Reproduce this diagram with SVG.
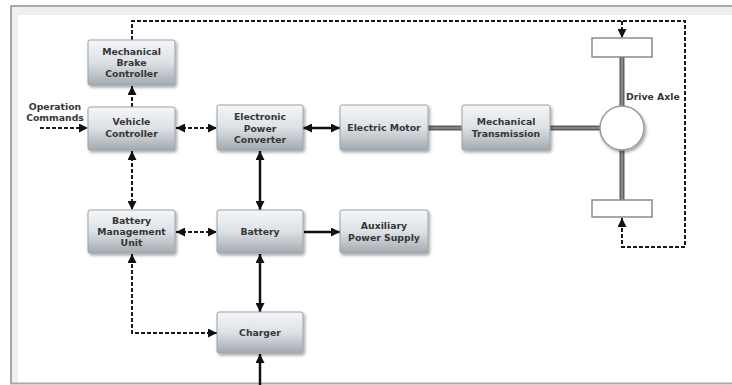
<svg xmlns="http://www.w3.org/2000/svg" width="732" height="385" viewBox="0 0 732 385">
<defs>
<linearGradient id="g" x1="0" y1="0" x2="0" y2="1">
<stop offset="0" stop-color="#f5f7f9"/>
<stop offset="0.5" stop-color="#dce1e5"/>
<stop offset="1" stop-color="#a3aab0"/>
</linearGradient>
<filter id="sh" x="-10%" y="-10%" width="125%" height="135%">
<feDropShadow dx="1.5" dy="2" stdDeviation="1.5" flood-color="#000" flood-opacity="0.35"/>
</filter>
<marker id="ah" viewBox="0 0 10 10" refX="10" refY="5" markerWidth="9" markerHeight="9" markerUnits="userSpaceOnUse" orient="auto-start-reverse">
<path d="M0,0 L10,5 L0,10 z" fill="#111"/>
</marker>
<style>
.box{fill:url(#g);stroke:#9ba2a8;stroke-width:1;filter:url(#sh)}
.t{font-family:"DejaVu Sans",Verdana,sans-serif;font-weight:bold;font-size:9.3px;fill:#363636;text-anchor:middle}
.dash{fill:none;stroke:#1a1a1a;stroke-width:2;stroke-dasharray:4 2}
.sol{fill:none;stroke:#111;stroke-width:2.5}
.shaft{fill:none;stroke:#5f5f5f;stroke-width:5}
.shaftc{fill:none;stroke:#a8a8a8;stroke-width:1.2}
.wheel{fill:#fff;stroke:#8a8a8a;stroke-width:1.5}
</style>
</defs>
<rect x="0" y="0" width="732" height="385" fill="#fff"/>
<g id="frame">
<rect x="10" y="6" width="722" height="9" fill="#eeeeee"/>
<rect x="10" y="6" width="8" height="377" fill="#f0f0f0"/>
<line x1="10" y1="6" x2="732" y2="6" stroke="#a8a8a8" stroke-width="2"/>
<line x1="11" y1="6" x2="11" y2="384" stroke="#a8a8a8" stroke-width="2"/>
<line x1="10" y1="383.5" x2="732" y2="383.5" stroke="#a8a8a8" stroke-width="2"/>
</g>
<g id="connectors">
<path class="shaft" d="M428,128 H462 M550,128 H600 M622,57 V106 M622,150 V200"/>
<path class="shaftc" d="M428,128 H462 M550,128 H600 M622,57 V106 M622,150 V200"/>
<path class="dash" d="M132,40 V21 H685 V247 H622 V218" marker-end="url(#ah)"/>
<path class="dash" d="M622,21 V38" marker-end="url(#ah)"/>
<path class="dash" d="M132,107 V86" marker-end="url(#ah)"/>
<path class="dash" d="M40,128 H88" marker-end="url(#ah)"/>
<path class="dash" d="M176,128 H217" marker-start="url(#ah)" marker-end="url(#ah)"/>
<path class="dash" d="M132,151 V210" marker-start="url(#ah)" marker-end="url(#ah)"/>
<path class="sol" d="M303,128 H340" marker-start="url(#ah)" marker-end="url(#ah)"/>
<path class="sol" d="M260,151 V210" marker-start="url(#ah)" marker-end="url(#ah)"/>
<path class="dash" d="M176,232 H217" marker-start="url(#ah)" marker-end="url(#ah)"/>
<path class="sol" d="M304,232 H340" marker-end="url(#ah)"/>
<path class="sol" d="M260,254 V312" marker-start="url(#ah)" marker-end="url(#ah)"/>
<path class="dash" d="M217,333 H132 V254" marker-start="url(#ah)" marker-end="url(#ah)"/>
<path class="sol" d="M260,385 V354" marker-end="url(#ah)"/>
</g>
<g id="mbc"><rect class="box" x="88" y="40" width="87" height="45" rx="2"/>
<text class="t" x="131.5" y="54.5">Mechanical</text><text class="t" x="131.5" y="65.5">Brake</text><text class="t" x="131.5" y="76.5">Controller</text></g>
<g id="vc"><rect class="box" x="88" y="107" width="87" height="43" rx="2"/>
<text class="t" x="131.5" y="125">Vehicle</text><text class="t" x="131.5" y="137">Controller</text></g>
<g id="epc"><rect class="box" x="217" y="105" width="86" height="45" rx="2"/>
<text class="t" x="260" y="120">Electronic</text><text class="t" x="260" y="131.5">Power</text><text class="t" x="260" y="143">Converter</text></g>
<g id="em"><rect class="box" x="340" y="105" width="88" height="45" rx="2"/>
<text class="t" x="384" y="131">Electric Motor</text></g>
<g id="mt"><rect class="box" x="462" y="105" width="88" height="45" rx="2"/>
<text class="t" x="506" y="125">Mechanical</text><text class="t" x="506" y="136.5">Transmission</text></g>
<g id="bmu"><rect class="box" x="88" y="210" width="87" height="43" rx="2"/>
<text class="t" x="131.5" y="224">Battery</text><text class="t" x="131.5" y="235">Management</text><text class="t" x="131.5" y="246">Unit</text></g>
<g id="bat"><rect class="box" x="217" y="210" width="86" height="43" rx="2"/>
<text class="t" x="260" y="235">Battery</text></g>
<g id="aux"><rect class="box" x="340" y="210" width="88" height="43" rx="2"/>
<text class="t" x="384" y="229">Auxiliary</text><text class="t" x="384" y="241">Power Supply</text></g>
<g id="chg"><rect class="box" x="217" y="312" width="86" height="41" rx="2"/>
<text class="t" x="260" y="336">Charger</text></g>
<g id="opcmd"><text class="t" x="55" y="110">Operation</text><text class="t" x="55" y="121">Commands</text></g>
<g id="axle">
<rect class="wheel" x="592" y="38" width="60" height="19"/>
<rect class="wheel" x="592" y="200" width="60" height="17"/>
<circle cx="622" cy="128" r="22" fill="#fff" stroke="#9a9a9a" stroke-width="1.5" filter="url(#sh)"/>
<text class="t" x="626" y="100" style="text-anchor:start">Drive Axle</text>
</g>
</svg>
